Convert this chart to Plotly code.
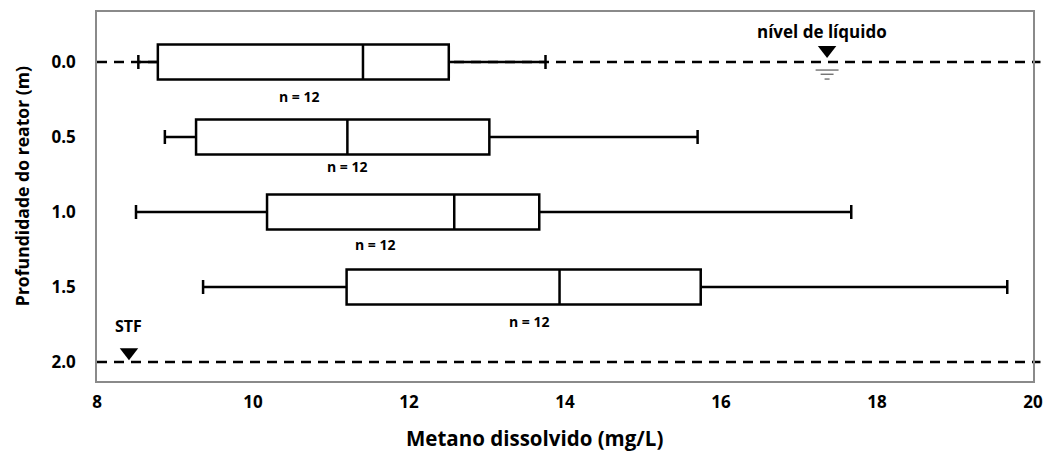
import plotly.graph_objects as go

# ---- data ----
depths = [0.0, 0.5, 1.0, 1.5]
depth_ticks = [0.0, 0.5, 1.0, 1.5, 2.0]
depth_tick_labels = ["0.0", "0.5", "1.0", "1.5", "2.0"]
whisker_low = [8.53, 8.87, 8.50, 9.36]
q1 = [8.78, 9.27, 10.18, 11.20]
median = [11.41, 11.21, 12.58, 13.93]
q3 = [12.51, 13.03, 13.67, 15.74]
whisker_high = [13.75, 15.70, 17.67, 19.67]
n_labels = ["n = 12", "n = 12", "n = 12", "n = 12"]
n_label_x = [10.59, 11.21, 11.57, 13.55]
n_label_y = [0.23, 0.70, 1.22, 1.73]
x_ticks = [8, 10, 12, 14, 16, 18, 20]

x_title = "Metano dissolvido (mg/L)"
y_title = "Profundidade do reator (m)"
liquid_label = "nível de líquido"
stf_label = "STF"
liquid_level_depth = 0.0
stf_depth = 2.0
liquid_marker_x = 17.36
stf_marker_x = 8.41

FONT = "Open Sans"
fig = go.Figure()

for i, d in enumerate(depths):
    fig.add_trace(go.Box(
        y=[d], q1=[q1[i]], median=[median[i]], q3=[q3[i]],
        lowerfence=[whisker_low[i]], upperfence=[whisker_high[i]],
        orientation="h", width=0.233, whiskerwidth=0.4,
        fillcolor="white", line=dict(color="black", width=2.5),
        boxpoints=False, showlegend=False, hoverinfo="skip",
    ))

# dashed level lines
for d in [liquid_level_depth, stf_depth]:
    fig.add_shape(type="line", xref="paper", yref="y", x0=0, x1=1.008, y0=d, y1=d,
                  layer="below", line=dict(color="black", width=2.5, dash="10px,7px"))

# triangle markers
fig.add_trace(go.Scatter(
    x=[liquid_marker_x, stf_marker_x], y=[-0.08, 1.935], mode="markers",
    marker=dict(symbol="triangle-down", size=16, color="black"),
    showlegend=False, hoverinfo="skip", cliponaxis=False))

# water level symbol (three short lines)
for dy, half in [(0.054, 0.147), (0.082, 0.083), (0.114, 0.032)]:
    fig.add_shape(type="line", xref="x", yref="y",
                  x0=liquid_marker_x - half, x1=liquid_marker_x + half,
                  y0=dy, y1=dy, line=dict(color="#666666", width=1.3))

fig.add_annotation(x=liquid_marker_x - 0.06, y=-0.2, text="<b>" + liquid_label + "</b>",
                   showarrow=False, font=dict(family=FONT, size=17, color="black"))
fig.add_annotation(x=stf_marker_x, y=1.76, text="<b>" + stf_label + "</b>",
                   showarrow=False, font=dict(family=FONT, size=16, color="black"))

for i in range(len(n_labels)):
    fig.add_annotation(x=n_label_x[i], y=n_label_y[i], text="<b>" + n_labels[i] + "</b>",
                       showarrow=False, font=dict(family=FONT, size=14, color="black"))

# axis titles
fig.add_annotation(xref="paper", yref="paper", x=0.4675, y=0, yshift=-57,
                   xanchor="center", yanchor="middle", borderpad=0,
                   text="<b>" + x_title + "</b>", showarrow=False,
                   font=dict(family=FONT, size=20.5, color="black"))
fig.add_annotation(xref="paper", yref="paper", x=0, xshift=-75, y=0.528,
                   xanchor="center", yanchor="middle", borderpad=0,
                   text="<b>" + y_title + "</b>", showarrow=False, textangle=-90,
                   font=dict(family=FONT, size=17.6, color="black"))

fig.update_layout(
    width=1045, height=453,
    margin=dict(l=97, r=12, t=12, b=72),
    paper_bgcolor="white", plot_bgcolor="white",
    font=dict(family=FONT, color="black"),
    xaxis=dict(range=[8, 20], tickvals=x_ticks, ticktext=[f"<b>{v}</b>" for v in x_ticks],
               showgrid=False, zeroline=False, automargin=False,
               showline=True, linecolor="#8a8a8a", linewidth=1.5, mirror=True,
               ticks="", ticklabelstandoff=5,
               tickfont=dict(family=FONT, size=17, color="black")),
    yaxis=dict(range=[2.127, -0.333], tickvals=depth_ticks,
               ticktext=[f"<b>{t}</b>" for t in depth_tick_labels],
               showgrid=False, zeroline=False, automargin=False,
               showline=True, linecolor="#8a8a8a", linewidth=1.5, mirror=True,
               ticks="", ticklabelstandoff=16,
               tickfont=dict(family=FONT, size=17, color="black")),
)

fig.write_html("out.html", config={"displayModeBar": False},
               post_script="document.body.style.margin='0';document.body.style.overflow='hidden';")
